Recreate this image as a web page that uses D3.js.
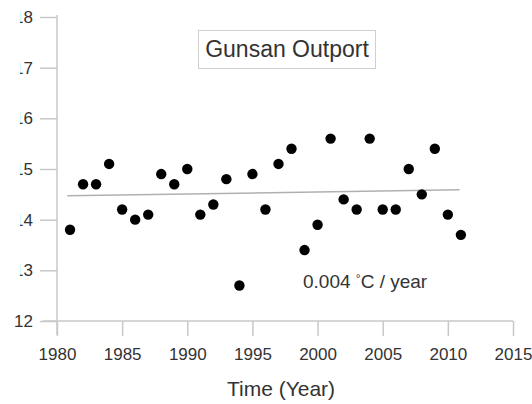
<!DOCTYPE html>
<html><head><meta charset="utf-8">
<script src="https://cdn.jsdelivr.net/npm/d3@7"></script>
<style>body{margin:0;background:#fff}svg{display:block}text{font-family:"Liberation Sans",Arial,sans-serif}</style>
</head><body>
<script>
const years = [1981,1982,1983,1984,1985,1986,1987,1988,1989,1990,1991,1992,1993,1994,1995,1996,1997,1998,1999,2000,2001,2002,2003,2004,2005,2006,2007,2008,2009,2010,2011];
const temps = [13.8,14.7,14.7,15.1,14.2,14.0,14.1,14.9,14.7,15.0,14.1,14.3,14.8,12.7,14.9,14.2,15.1,15.4,13.4,13.9,15.6,14.4,14.2,15.6,14.2,14.2,15.0,14.5,15.4,14.1,13.7];
const trendYears = [1980.8, 2010.9];
const trendValues = [14.47, 14.59];
const xTicks = [1980,1985,1990,1995,2000,2005,2010,2015];
const yTicks = [12,13,14,15,16,17,18];
const title = "Gunsan Outport";
const xLabel = "Time (Year)";

const W = 532, H = 404;
const svg = d3.select("body").append("svg").attr("width", W).attr("height", H);
const x = d3.scaleLinear().domain([1980, 2015]).range([57, 513]);
const y = d3.scaleLinear().domain([12, 18]).range([321, 17]);
const axisCol = "#c8c8c8", textCol = "#333";

// clip for y tick labels (left side is cut off in the reference)
const defs = svg.append("defs");
const cp = defs.append("clipPath").attr("id", "ylabClip");
cp.append("rect").attr("x", 20).attr("y", 0).attr("width", 200).attr("height", 300);
cp.append("rect").attr("x", 0).attr("y", 300).attr("width", 200).attr("height", 104);

// axis lines
svg.append("line").attr("x1", 43).attr("x2", 513).attr("y1", y(12)).attr("y2", y(12))
  .attr("stroke", axisCol).attr("stroke-width", 1.5);
svg.append("line").attr("x1", x(1980)).attr("x2", x(1980)).attr("y1", y(18) - 2).attr("y2", 335)
  .attr("stroke", axisCol).attr("stroke-width", 1.5);

// y axis
const ya = svg.append("g").attr("transform", `translate(${x(1980)},0)`)
  .call(d3.axisLeft(y).tickValues(yTicks).tickSize(17).tickPadding(7).tickFormat(d3.format("d")));
ya.select(".domain").remove();
ya.selectAll(".tick line").attr("stroke", axisCol).attr("stroke-width", 1.5);
const labG = svg.append("g").attr("clip-path", "url(#ylabClip)");
ya.selectAll(".tick text").each(function(d){
  labG.append("text").attr("x", x(1980) - 24).attr("y", y(d)).attr("dy", "0.36em")
    .attr("text-anchor", "end").attr("fill", textCol).attr("font-size", 17).text(d);
}).remove();

// x axis
const xa = svg.append("g").attr("transform", `translate(0,${y(12)})`)
  .call(d3.axisBottom(x).tickValues(xTicks).tickSize(15).tickPadding(12).tickFormat(d3.format("d")));
xa.select(".domain").remove();
xa.selectAll(".tick line").attr("stroke", axisCol).attr("stroke-width", 1.5);
xa.selectAll(".tick text").attr("fill", textCol).attr("font-size", 17)
  .attr("font-family", "Liberation Sans, Arial, sans-serif");

svg.append("text").attr("x", 281).attr("y", 396).attr("text-anchor", "middle")
  .attr("fill", textCol).attr("font-size", 21).text(xLabel);

// trend line
svg.append("path").datum(trendYears.map((t, i) => [t, trendValues[i]]))
  .attr("d", d3.line().x(d => x(d[0])).y(d => y(d[1])))
  .attr("stroke", "#b0b0b0").attr("stroke-width", 1.5).attr("fill", "none");

// points
svg.append("g").selectAll("circle").data(years.map((t, i) => [t, temps[i]])).join("circle")
  .attr("cx", d => x(d[0])).attr("cy", d => y(d[1])).attr("r", 5.2).attr("fill", "#000");

// title box
svg.append("rect").attr("x", 198.5).attr("y", 30.5).attr("width", 177).attr("height", 38)
  .attr("fill", "#fff").attr("stroke", "#cfcfcf").attr("stroke-width", 1);
svg.append("text").attr("x", 287).attr("y", 57).attr("text-anchor", "middle")
  .attr("fill", textCol).attr("font-size", 23).text(title);

// annotation
const ann = svg.append("text").attr("x", 303).attr("y", 288).attr("fill", textCol).attr("font-size", 19);
ann.append("tspan").text("0.004 ");
ann.append("tspan").attr("font-size", 12).attr("dy", -5).text("°");
ann.append("tspan").attr("dy", 5).text("C / year");
</script>
</body></html>
